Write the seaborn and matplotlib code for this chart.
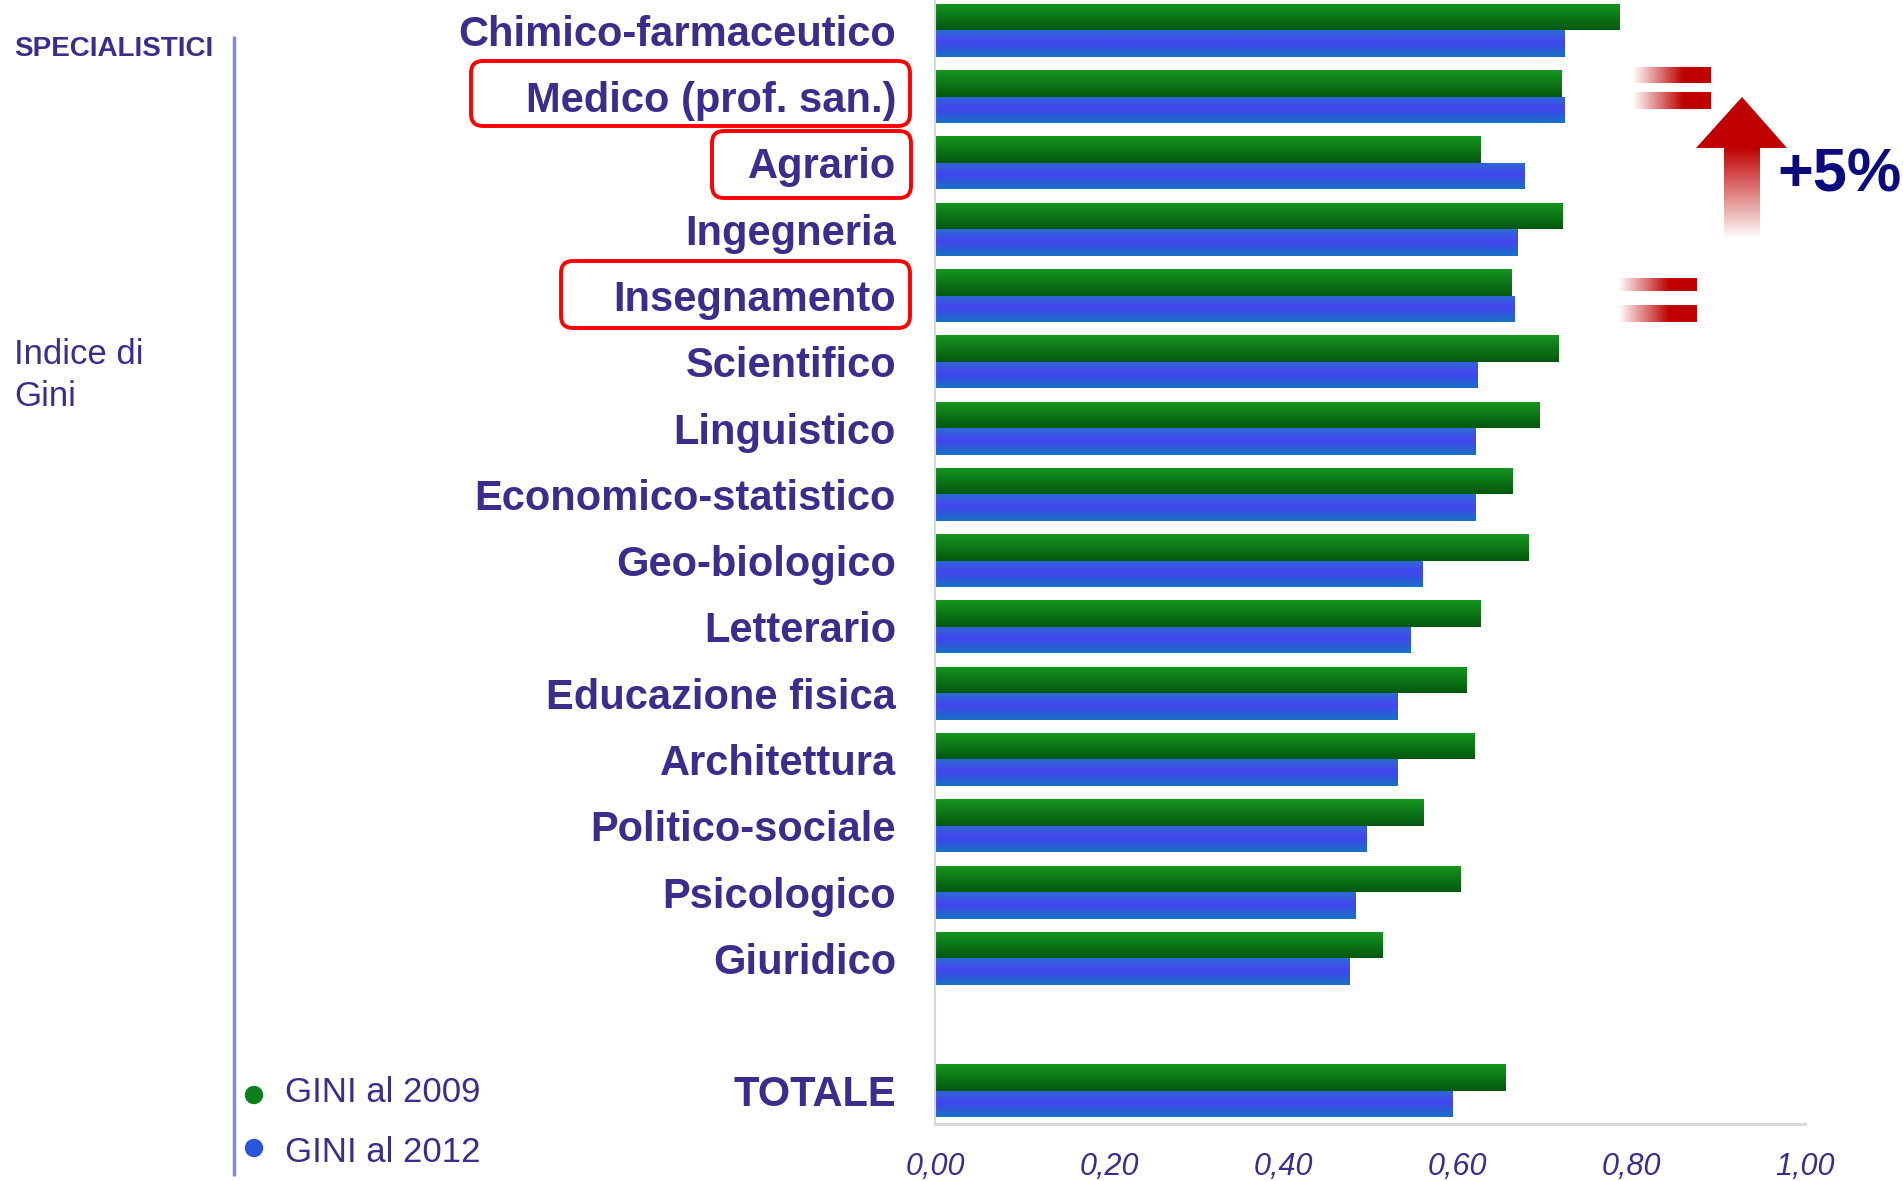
import numpy as np
import pandas as pd
import matplotlib
matplotlib.use("Agg")
import matplotlib.pyplot as plt
import seaborn as sns
from matplotlib.patches import FancyBboxPatch, Polygon, Circle
from matplotlib.colors import to_rgba

# ---------------- data ----------------
categories = ["Chimico-farmaceutico", "Medico (prof. san.)", "Agrario", "Ingegneria",
              "Insegnamento", "Scientifico", "Linguistico", "Economico-statistico",
              "Geo-biologico", "Letterario", "Educazione fisica", "Architettura",
              "Politico-sociale", "Psicologico", "Giuridico", " ", "TOTALE"]
gini_2009 = [0.787, 0.720, 0.627, 0.721, 0.663, 0.717, 0.695, 0.664,
             0.682, 0.627, 0.611, 0.620, 0.561, 0.604, 0.514, None, 0.656]
gini_2012 = [0.724, 0.723, 0.678, 0.669, 0.666, 0.624, 0.621, 0.621,
             0.560, 0.547, 0.532, 0.532, 0.496, 0.483, 0.476, None, 0.595]
series = ["GINI al 2009", "GINI al 2012"]
x_ticks = [0.0, 0.2, 0.4, 0.6, 0.8, 1.0]
x_tick_labels = ["0,00", "0,20", "0,40", "0,60", "0,80", "1,00"]

rows = []
for c, a, b in zip(categories, gini_2009, gini_2012):
    if a is not None:
        rows.append((c, series[0], a))
        rows.append((c, series[1], b))
df = pd.DataFrame(rows, columns=["cat", "serie", "val"])

# ---------------- style ----------------
sns.set_theme(style="white")
plt.rcParams["font.family"] = ["Liberation Sans", "DejaVu Sans"]
TXT = "#3c2c8c"
GREEN = "#0c7a1a"
BLUE = "#3a55e6"

W, H = 1903, 1181
fig = plt.figure(figsize=(W / 100, H / 100), dpi=100)
ax = fig.add_axes([935 / W, 1 - 1124 / H, (1805 - 935) / W, 1124 / H + 0.0012])

sns.barplot(data=df, y="cat", x="val", hue="serie", order=categories,
            hue_order=series, palette=[GREEN, BLUE], orient="h", width=0.8,
            ax=ax, saturation=1, legend=False, edgecolor="none")

ax.set_xlim(0, 1.0)
ax.set_ylim(16.5, -0.48)

# gradient fill on bars
def grad(stops, n=64):
    pos = np.linspace(0, 1, n)
    cols = np.array([to_rgba(c) for _, c in stops])
    p = np.array([s for s, _ in stops])
    arr = np.zeros((n, 1, 4))
    for k in range(4):
        arr[:, 0, k] = np.interp(pos, p, cols[:, k])
    return arr

g_green = grad([(0, "#15961f"), (1, "#04580f")])
g_blue = grad([(0, "#2c6bd4"), (0.45, "#4444ef"), (1, "#1670c6")])

for patch in list(ax.patches):
    x0, y0 = patch.get_x(), patch.get_y()
    w, h = patch.get_width(), patch.get_height()
    if w <= 0 or np.isnan(w):
        continue
    fc = patch.get_facecolor()
    img = g_green if fc[1] > fc[2] else g_blue
    im = ax.imshow(img, extent=(x0, x0 + w, y0 + h, y0), origin="upper",
                   aspect="auto", zorder=patch.get_zorder() + 0.1, interpolation="bilinear")
    im.set_clip_path(patch)
ax.set_xlim(0, 1.0)
ax.set_ylim(16.5, -0.48)

ax.set_xlabel("")
ax.set_ylabel("")
ax.set_xticks(x_ticks)
ax.set_xticklabels(x_tick_labels, fontsize=22, style="italic", color=TXT)
ax.tick_params(axis="x", length=0, pad=20)
ax.set_yticks(range(len(categories)))
ax.set_yticklabels(categories, fontsize=30, fontweight="bold", color=TXT)
ax.tick_params(axis="y", length=0, pad=28)
for s in ["top", "right"]:
    ax.spines[s].set_visible(False)
ax.spines["left"].set_color("#d8d8d8")
ax.spines["left"].set_linewidth(1.5)
ax.spines["bottom"].set_color("#d8d8d8")
ax.spines["bottom"].set_linewidth(2.2)

# ---------------- overlay annotations (pixel coords) ----------------
ov = fig.add_axes([0, 0, 1, 1])
ov.set_xlim(0, W)
ov.set_ylim(H, 0)
ov.axis("off")

ov.text(14, 49, "SPECIALISTICI", fontsize=20, fontweight="bold", color=TXT,
        va="center", ha="left")
ov.text(14, 354, "Indice di", fontsize=25, color=TXT, va="center", ha="left")
ov.text(14, 396, "Gini", fontsize=25, color=TXT, va="center", ha="left")
ov.plot([234, 234], [36, 1176], color="#8888d4", lw=2.5, solid_capstyle="butt")

# legend
ov.add_patch(Circle((254, 1095), 8.5, color="#0e7d1c"))
ov.add_patch(Circle((254, 1148), 8.5, color="#2a55d8"))
ov.text(285, 1093, series[0], fontsize=25, color=TXT, va="center", ha="left")
ov.text(285, 1152, series[1], fontsize=25, color=TXT, va="center", ha="left")

# red rounded boxes
for (x0, y0, x1, y1) in [(471, 61, 910, 126), (712, 131, 911, 198), (561, 261, 910, 328)]:
    ov.add_patch(FancyBboxPatch((x0, y0), x1 - x0, y1 - y0,
                                boxstyle="round,pad=0,rounding_size=12",
                                fill=False, ec="#ff0000", lw=2.8))

RED = "#c00000"
def hgrad(n=64):
    arr = np.zeros((1, n, 4))
    r = to_rgba(RED)
    pos = np.linspace(0, 1, n)
    alpha = np.interp(pos, [0, 0.65, 1], [0.0, 1.0, 1.0])
    for k in range(3):
        arr[0, :, k] = r[k]
    arr[0, :, 3] = alpha
    return arr

for (x0, x1, y0, y1) in [(1632, 1711, 67, 83), (1632, 1711, 92, 109),
                         (1618, 1697, 278, 291), (1618, 1697, 305, 322)]:
    ov.imshow(hgrad(), extent=(x0, x1, y1, y0), origin="upper", aspect="auto",
              interpolation="bilinear")

# arrow
ov.add_patch(Polygon([(1742, 97), (1787, 148), (1696, 148)], closed=True,
                     color=RED, lw=0))
varr = np.zeros((64, 1, 4))
rr = to_rgba(RED)
for k in range(3):
    varr[:, 0, k] = rr[k]
varr[:, 0, 3] = np.linspace(1.0, 0.03, 64)
ov.imshow(varr, extent=(1724, 1760, 237, 147), origin="upper", aspect="auto",
          interpolation="bilinear")
ov.text(1840, 176, "+5%", fontsize=44, fontweight="bold", color="#0b0b7e",
        va="center", ha="center")

ov.set_xlim(0, W)
ov.set_ylim(H, 0)

fig.savefig("out.png", dpi=100)
